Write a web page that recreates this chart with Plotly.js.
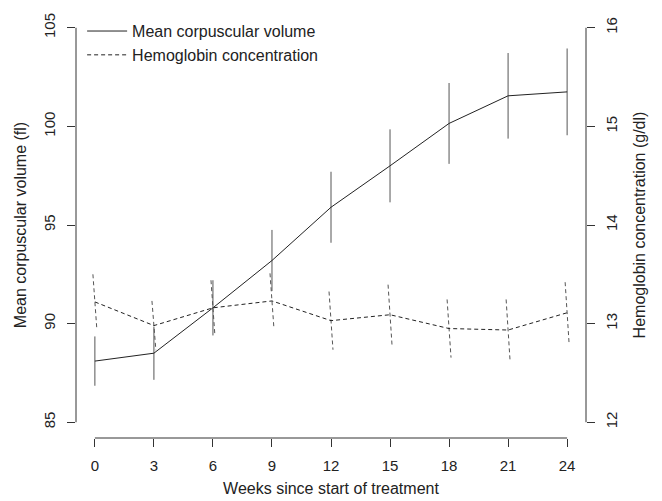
<!DOCTYPE html>
<html>
<head>
<meta charset="utf-8">
<script src="https://cdn.plot.ly/plotly-3.0.1.min.js"></script>
<style>html,body{margin:0;padding:0;background:#fff;}#chart{width:662px;height:501px;}</style>
</head>
<body>
<div id="chart"></div>
<script>
// ---- data ----
var weeks = [0, 3, 6, 9, 12, 15, 18, 21, 24];
var mcvMean = [88.1, 88.5, 90.8, 93.2, 95.9, 98.0, 100.15, 101.55, 101.75];
var mcvErr = [1.25, 1.35, 1.4, 1.55, 1.8, 1.85, 2.05, 2.17, 2.2];
var hbMean = [13.22, 12.98, 13.16, 13.23, 13.03, 13.09, 12.95, 12.935, 13.11];
var hbErr = [0.28, 0.25, 0.28, 0.28, 0.295, 0.305, 0.295, 0.31, 0.31];
var xTicks = [0, 3, 6, 9, 12, 15, 18, 21, 24];
var mcvTicks = [85, 90, 95, 100, 105];
var hbTicks = [12, 13, 14, 15, 16];

// ---- styles ----
var FONT = "Liberation Sans, Arial, Helvetica, sans-serif";
var LINE = "#222";
var BAR = "#555";
var AXIS = "#333";
var skew = 0.1; // slight slant of the dashed bars, as in the reference

// dashed error bar segments for hemoglobin
var hbBarX = [], hbBarY = [];
for (var i = 0; i < weeks.length; i++) {
  hbBarX.push(weeks[i] - skew, weeks[i] + skew, null);
  hbBarY.push(hbMean[i] + hbErr[i], hbMean[i] - hbErr[i], null);
}

var traces = [
  {x: hbBarX, y: hbBarY, yaxis: 'y2', mode: 'lines', showlegend: false, hoverinfo: 'skip',
   line: {color: BAR, width: 1, dash: '4px,3px'}},
  {x: weeks, y: mcvMean, mode: 'lines', name: 'Mean corpuscular volume',
   line: {color: LINE, width: 1},
   error_y: {type: 'data', array: mcvErr, visible: true, width: 0, thickness: 1, color: BAR}},
  {x: weeks, y: hbMean, yaxis: 'y2', mode: 'lines', name: 'Hemoglobin concentration',
   line: {color: LINE, width: 1, dash: '4px,3px'}}
];

var layout = {
  width: 662, height: 501,
  margin: {l: 76, r: 76, t: 12, b: 63, pad: 0},
  paper_bgcolor: '#fff', plot_bgcolor: '#fff',
  font: {family: FONT, size: 16, color: '#222'},
  showlegend: true,
  legend: {x: 0.012, y: 0.995, xanchor: 'left', yanchor: 'top', bgcolor: 'rgba(0,0,0,0)',
           font: {family: FONT, size: 16, color: '#222'}, itemwidth: 40, tracegroupgap: 0},
  xaxis: {range: [-0.96, 24.96], tickvals: xTicks, ticktext: xTicks.map(String),
          ticks: 'outside', ticklen: 8, tickcolor: AXIS, tickwidth: 1,
          showgrid: false, zeroline: false, showline: false, ticklabelstandoff: 6,
          tickfont: {family: FONT, size: 15, color: '#222'},
          title: {text: 'Weeks since start of treatment', standoff: 9,
                  font: {family: FONT, size: 16, color: '#222'}}},
  yaxis: {range: [84.2, 105.8], tickvals: mcvTicks, ticktext: mcvTicks.map(String),
          ticks: 'outside', ticklen: 8, tickcolor: AXIS, tickwidth: 1, tickangle: -90,
          showgrid: false, zeroline: false, showline: false, ticklabelstandoff: 6,
          tickfont: {family: FONT, size: 15, color: '#222'},
          title: {text: 'Mean corpuscular volume (fl)', standoff: 10,
                  font: {family: FONT, size: 16, color: '#222'}}},
  yaxis2: {range: [11.84, 16.16], overlaying: 'y', side: 'right',
           tickvals: hbTicks, ticktext: hbTicks.map(String),
           ticks: 'outside', ticklen: 8, tickcolor: AXIS, tickwidth: 1, tickangle: -90,
           showgrid: false, zeroline: false, showline: false, ticklabelstandoff: 4,
           tickfont: {family: FONT, size: 15, color: '#222'},
           title: {text: 'Hemoglobin concentration (g/dl)', standoff: 14,
                   font: {family: FONT, size: 16, color: '#222'}}},
  shapes: [
    {type: 'line', xref: 'x', yref: 'paper', x0: xTicks[0], x1: xTicks[xTicks.length - 1], y0: 0, y1: 0,
     line: {color: AXIS, width: 1}},
    {type: 'line', xref: 'paper', yref: 'y', x0: 0, x1: 0, y0: mcvTicks[0], y1: mcvTicks[mcvTicks.length - 1],
     line: {color: AXIS, width: 1}},
    {type: 'line', xref: 'paper', yref: 'y2', x0: 1, x1: 1, y0: hbTicks[0], y1: hbTicks[hbTicks.length - 1],
     line: {color: AXIS, width: 1}}
  ]
};

Plotly.newPlot('chart', traces, layout, {staticPlot: true, displayModeBar: false});
</script>
</body>
</html>
